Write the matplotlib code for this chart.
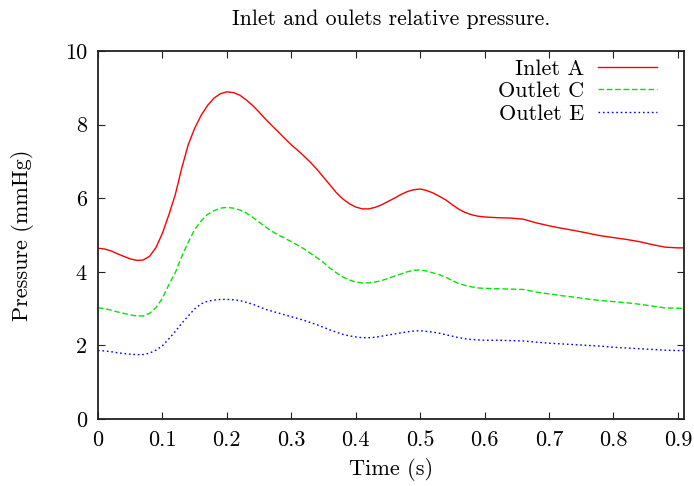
import matplotlib
matplotlib.use("Agg")
import matplotlib.pyplot as plt

plt.rcParams['font.family'] = ['cmr10', 'DejaVu Serif']
plt.rcParams['mathtext.fontset'] = 'cm'
plt.rcParams['axes.formatter.use_mathtext'] = True

title = "Inlet and oulets relative pressure."
xlabel = "Time (s)"
ylabel = "Pressure (mmHg)"

time = [0.00, 0.01, 0.02, 0.03, 0.04, 0.05, 0.06, 0.07, 0.08, 0.09,
        0.10, 0.11, 0.12, 0.13, 0.14, 0.15, 0.16, 0.17, 0.18, 0.19,
        0.20, 0.21, 0.22, 0.23, 0.24, 0.25, 0.26, 0.27, 0.28, 0.29,
        0.30, 0.31, 0.32, 0.33, 0.34, 0.35, 0.36, 0.37, 0.38, 0.39,
        0.40, 0.41, 0.42, 0.43, 0.44, 0.45, 0.46, 0.47, 0.48, 0.49,
        0.50, 0.51, 0.52, 0.53, 0.54, 0.55, 0.56, 0.57, 0.58, 0.59,
        0.60, 0.62, 0.64, 0.66, 0.68, 0.70, 0.72, 0.74, 0.76, 0.78,
        0.80, 0.82, 0.84, 0.86, 0.88, 0.90, 0.91]

inlet_a = [4.64, 4.62, 4.57, 4.49, 4.42, 4.35, 4.31, 4.32, 4.42, 4.66,
           5.05, 5.55, 6.10, 6.82, 7.45, 7.90, 8.25, 8.52, 8.72, 8.84,
           8.89, 8.87, 8.80, 8.67, 8.52, 8.34, 8.15, 7.97, 7.80, 7.62,
           7.45, 7.30, 7.14, 6.97, 6.78, 6.57, 6.36, 6.15, 5.98, 5.85,
           5.76, 5.71, 5.71, 5.75, 5.82, 5.91, 6.00, 6.10, 6.18, 6.23,
           6.25, 6.21, 6.14, 6.05, 5.95, 5.82, 5.70, 5.61, 5.55, 5.51,
           5.49, 5.47, 5.46, 5.43, 5.33, 5.25, 5.18, 5.12, 5.05, 4.98,
           4.93, 4.88, 4.82, 4.74, 4.67, 4.65, 4.65]

outlet_c = [3.02, 3.00, 2.96, 2.91, 2.87, 2.83, 2.80, 2.80, 2.87, 3.03,
            3.28, 3.65, 3.98, 4.42, 4.80, 5.15, 5.38, 5.56, 5.66, 5.73,
            5.75, 5.73, 5.68, 5.60, 5.48, 5.35, 5.22, 5.10, 5.00, 4.91,
            4.82, 4.72, 4.62, 4.50, 4.38, 4.25, 4.10, 3.97, 3.86, 3.78,
            3.72, 3.70, 3.70, 3.72, 3.76, 3.82, 3.88, 3.94, 4.00, 4.04,
            4.05, 4.02, 3.97, 3.92, 3.85, 3.76, 3.68, 3.63, 3.59, 3.56,
            3.55, 3.54, 3.53, 3.52, 3.45, 3.40, 3.35, 3.31, 3.26, 3.22,
            3.19, 3.16, 3.12, 3.07, 3.02, 3.01, 3.01]

outlet_e = [1.86, 1.85, 1.83, 1.80, 1.78, 1.76, 1.75, 1.75, 1.79, 1.87,
            1.99, 2.18, 2.38, 2.60, 2.80, 2.99, 3.13, 3.20, 3.23, 3.25,
            3.25, 3.24, 3.22, 3.17, 3.12, 3.05, 2.98, 2.93, 2.88, 2.83,
            2.78, 2.73, 2.68, 2.62, 2.56, 2.49, 2.42, 2.36, 2.30, 2.26,
            2.23, 2.21, 2.21, 2.22, 2.25, 2.28, 2.31, 2.34, 2.37, 2.39,
            2.40, 2.38, 2.36, 2.33, 2.29, 2.25, 2.21, 2.18, 2.16, 2.15,
            2.14, 2.14, 2.13, 2.12, 2.09, 2.06, 2.04, 2.02, 2.00, 1.98,
            1.95, 1.93, 1.91, 1.89, 1.87, 1.86, 1.86]

series_names = ["Inlet A", "Outlet C", "Outlet E"]

xticks = [0, 0.1, 0.2, 0.3, 0.4, 0.5, 0.6, 0.7, 0.8, 0.9]
xtick_labels = ["0", "0.1", "0.2", "0.3", "0.4", "0.5", "0.6", "0.7", "0.8", "0.9"]
yticks = [0, 2, 4, 6, 8, 10]
ytick_labels = ["0", "2", "4", "6", "8", "10"]

FS = 16

fig = plt.figure(figsize=(6.94, 4.86), dpi=100)
ax = fig.add_axes([98/694, 1 - 419/486, (684 - 98)/694, (419 - 51)/486])

ax.plot(time, inlet_a, color='#ff0000', lw=1.0, ls='-', label=series_names[0])
ax.plot(time, outlet_c, color='#00e600', lw=1.0, ls=(0, (4, 2)), label=series_names[1])
ax.plot(time, outlet_e, color='#0000ff', lw=1.0, ls=(0, (1.2, 2)), label=series_names[2])

ax.set_xlim(0, 0.9095)
ax.set_ylim(0, 10)
ax.set_xticks(xticks)
ax.set_xticklabels(xtick_labels)
ax.set_yticks(yticks)
ax.set_yticklabels(ytick_labels)

ax.tick_params(direction='in', length=5, width=0.8, top=True, right=True,
               labelsize=FS, pad=8, color='#222222')
ax.tick_params(axis='y', pad=8)
for s in ax.spines.values():
    s.set_linewidth(1.3)
    s.set_color('#222222')

ax.set_title(title, fontsize=15.7, pad=18.5)
ax.set_xlabel(xlabel, fontsize=FS, labelpad=6)
ax.set_ylabel(ylabel, fontsize=FS, labelpad=22)

leg = ax.legend(loc='upper right', bbox_to_anchor=(0.954, 0.978),
                frameon=False, markerfirst=False,
                fontsize=FS, handlelength=2.65, handletextpad=0.63,
                labelspacing=0.13, borderaxespad=0.0, borderpad=0.0)
for t in leg.get_texts():
    t.set_ha('right')
leg._legend_box.align = "right"

fig.savefig("out.png", dpi=100)
